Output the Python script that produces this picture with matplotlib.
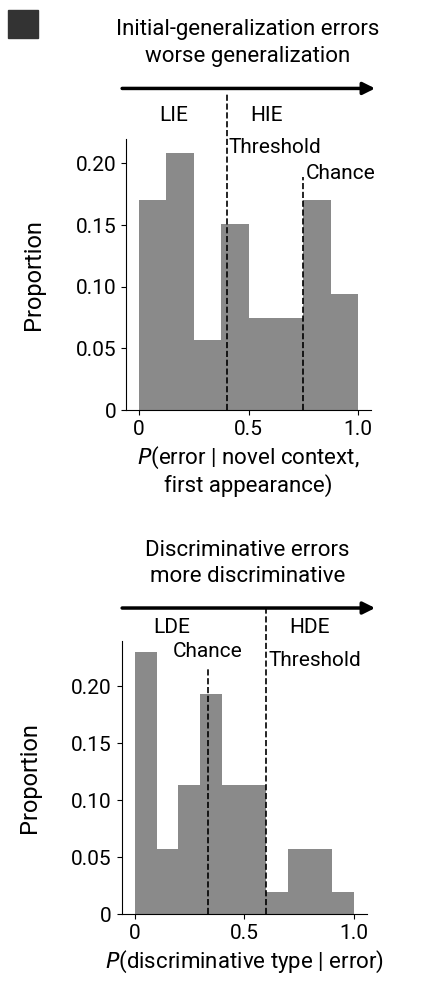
import matplotlib
matplotlib.use('Agg')
import matplotlib.pyplot as plt
from matplotlib.patches import Rectangle, FancyArrowPatch

plt.rcParams['font.family'] = ['Roboto', 'DejaVu Sans']
plt.rcParams['font.size'] = 15

# top panel: initial-generalization errors
top_edges = [0, 0.125, 0.25, 0.375, 0.5, 0.625, 0.75, 0.875, 1.0]
top_vals = [0.17, 0.208, 0.057, 0.151, 0.075, 0.075, 0.17, 0.094]
top_threshold = 0.4
top_chance = 0.75

# bottom panel: discriminative errors
bot_edges = [0, 0.1, 0.2, 0.3, 0.4, 0.5, 0.6, 0.7, 0.8, 0.9, 1.0]
bot_vals = [0.23, 0.057, 0.113, 0.193, 0.113, 0.113, 0.019, 0.057, 0.057, 0.019]
bot_chance = 1 / 3
bot_threshold = 0.6

gray = '#8a8a8a'
fig = plt.figure(figsize=(4.42, 10.05), dpi=100)

def panel(rect, edges, vals, ylim, yticks, ylabels):
    ax = fig.add_axes(rect)
    widths = [edges[i + 1] - edges[i] for i in range(len(vals))]
    ax.bar(edges[:-1], vals, width=widths, align='edge', color=gray, linewidth=0)
    ax.set_xlim(-0.06, 1.06)
    ax.set_ylim(0, ylim)
    ax.set_xticks([0, 0.5, 1.0])
    ax.set_xticklabels(['0', '0.5', '1.0'])
    ax.set_yticks(yticks)
    ax.set_yticklabels(ylabels)
    ax.spines['top'].set_visible(False)
    ax.spines['right'].set_visible(False)
    ax.set_ylabel('Proportion', fontsize=17, labelpad=22)
    return ax

ax1 = panel([0.285, 0.592, 0.555, 0.27], top_edges, top_vals, 0.22,
            [0, 0.05, 0.10, 0.15, 0.20], ['0', '0.05', '0.10', '0.15', '0.20'])
ax1.axvline(top_threshold, ymax=1.17, color='k', ls='--', lw=1.2, clip_on=False)
ax1.axvline(top_chance, ymax=0.86, color='k', ls='--', lw=1.2)
ax1.text(top_threshold + 0.01, 0.205, 'Threshold', fontsize=15, va='bottom')
ax1.text(top_chance + 0.01, 0.184, 'Chance', fontsize=15, va='bottom')
ax1.text(0.16, 0.234, 'LIE', fontsize=15, ha='center', clip_on=False)
ax1.text(0.58, 0.234, 'HIE', fontsize=15, ha='center', clip_on=False)
ax1.set_xlabel(r'$P$(error | novel context,' + '\nfirst appearance)', fontsize=16)

ax2 = panel([0.275, 0.0905, 0.555, 0.272], bot_edges, bot_vals, 0.24,
            [0, 0.05, 0.10, 0.15, 0.20], ['0', '0.05', '0.10', '0.15', '0.20'])
ax2.axvline(bot_chance, ymax=0.9, color='k', ls='--', lw=1.2)
ax2.axvline(bot_threshold, ymax=1.12, color='k', ls='--', lw=1.2, clip_on=False)
ax2.text(bot_chance, 0.222, 'Chance', fontsize=15, ha='center', va='bottom')
ax2.text(bot_threshold + 0.01, 0.214, 'Threshold', fontsize=15, va='bottom')
ax2.text(0.17, 0.247, 'LDE', fontsize=15, ha='center', clip_on=False)
ax2.text(0.8, 0.247, 'HDE', fontsize=15, ha='center', clip_on=False)
ax2.set_xlabel(r'$P$(discriminative type | error)', fontsize=16)

# headers with arrows
fig.text(0.56, 0.971, 'Initial-generalization errors', ha='center', va='center', fontsize=16)
fig.text(0.56, 0.944, 'worse generalization', ha='center', va='center', fontsize=16)
fig.add_artist(FancyArrowPatch((0.27, 0.912), (0.855, 0.912), transform=fig.transFigure,
               arrowstyle='-|>', mutation_scale=18, lw=2.5, color='k'))
fig.text(0.56, 0.452, 'Discriminative errors', ha='center', va='center', fontsize=16)
fig.text(0.56, 0.426, 'more discriminative', ha='center', va='center', fontsize=16)
fig.add_artist(FancyArrowPatch((0.27, 0.395), (0.855, 0.395), transform=fig.transFigure,
               arrowstyle='-|>', mutation_scale=18, lw=2.5, color='k'))

fig.add_artist(Rectangle((0.018, 0.962), 0.068, 0.028, transform=fig.transFigure, color='#333333'))

fig.savefig('out.png', dpi=100)
